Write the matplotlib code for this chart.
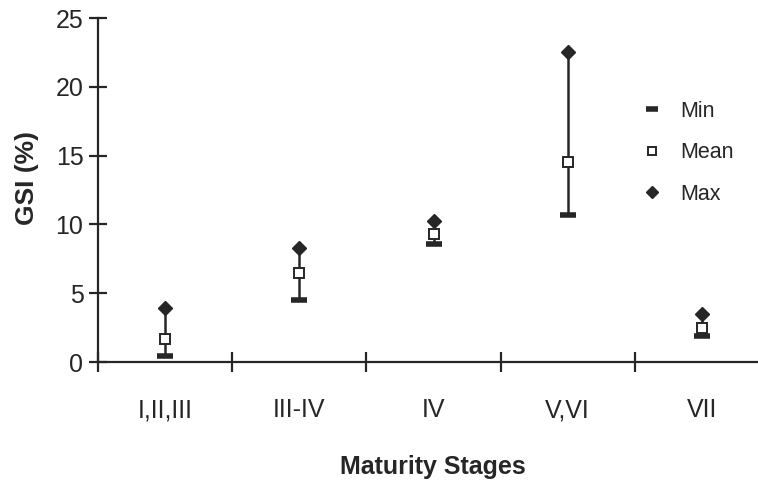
import matplotlib
matplotlib.use("Agg")
import matplotlib.pyplot as plt
import numpy as np

stages = ["I,II,III", "III-IV", "IV", "V,VI", "VII"]
gsi_min = [0.45, 4.5, 8.6, 10.7, 1.9]
gsi_mean = [1.7, 6.5, 9.3, 14.5, 2.5]
gsi_max = [3.9, 8.3, 10.25, 22.5, 3.5]
yticks = [0, 5, 10, 15, 20, 25]

plt.rcParams["font.family"] = ["Liberation Sans", "DejaVu Sans"]

ink = "#262626"
fig = plt.figure(figsize=(7.58, 4.82), dpi=100, facecolor="white")
ax = fig.add_axes([98/758, 120/482, 671/758, 344/482])

x = np.arange(len(stages))
ax.vlines(x, gsi_min, gsi_max, color=ink, lw=1.8, zorder=2)
hmin, = ax.plot(x, gsi_min, linestyle="none", marker="_", ms=11, mew=4, color=ink, zorder=3, label="Min")
hmean, = ax.plot(x, gsi_mean, linestyle="none", marker="s", ms=7.5, mew=1.4, mfc="white", mec=ink, zorder=4, label="Mean")
hmax, = ax.plot(x, gsi_max, linestyle="none", marker="D", ms=7.5, color=ink, zorder=4, label="Max")

ax.set_xlim(-0.5, len(stages) - 0.5)
ax.set_ylim(0, 25)
ax.set_yticks(yticks)
ax.set_xticks(np.arange(len(stages) + 1) - 0.5)
ax.set_xticklabels([])
ax.set_xticks(x, minor=True)
ax.set_xticklabels(stages, minor=True, fontsize=18, color=ink)
ax.tick_params(axis="x", which="major", direction="inout", length=14, width=1.6, color=ink)
ax.tick_params(axis="x", which="minor", length=0, pad=26)
ax.tick_params(axis="y", direction="inout", length=13, width=1.6, color=ink, labelsize=18, labelcolor=ink, pad=4)
for s in ["top", "right"]:
    ax.spines[s].set_visible(False)
for s in ["left", "bottom"]:
    ax.spines[s].set_color(ink)
    ax.spines[s].set_linewidth(1.6)

ax.set_ylabel("GSI (%)", fontsize=19, fontweight="bold", color=ink)
ax.set_xlabel("Maturity Stages", fontsize=18, fontweight="bold", color=ink)
ax.xaxis.set_label_coords((433-98)/671, -(467-362)/344)
ax.yaxis.set_label_coords(-(98-27)/671, (362-178)/344)
ax.yaxis.label.set_verticalalignment("center")
ax.xaxis.label.set_verticalalignment("center")

ax.legend(handles=[hmin, hmean, hmax], loc="upper left", bbox_to_anchor=((643-98)/671, (362-101)/344),
          frameon=False, fontsize=15.5, handlelength=0.8, handletextpad=0.95, labelspacing=0.95,
          borderaxespad=0, borderpad=0, labelcolor=ink, markerscale=0.85)

fig.savefig("out.png", dpi=100, facecolor="white")
